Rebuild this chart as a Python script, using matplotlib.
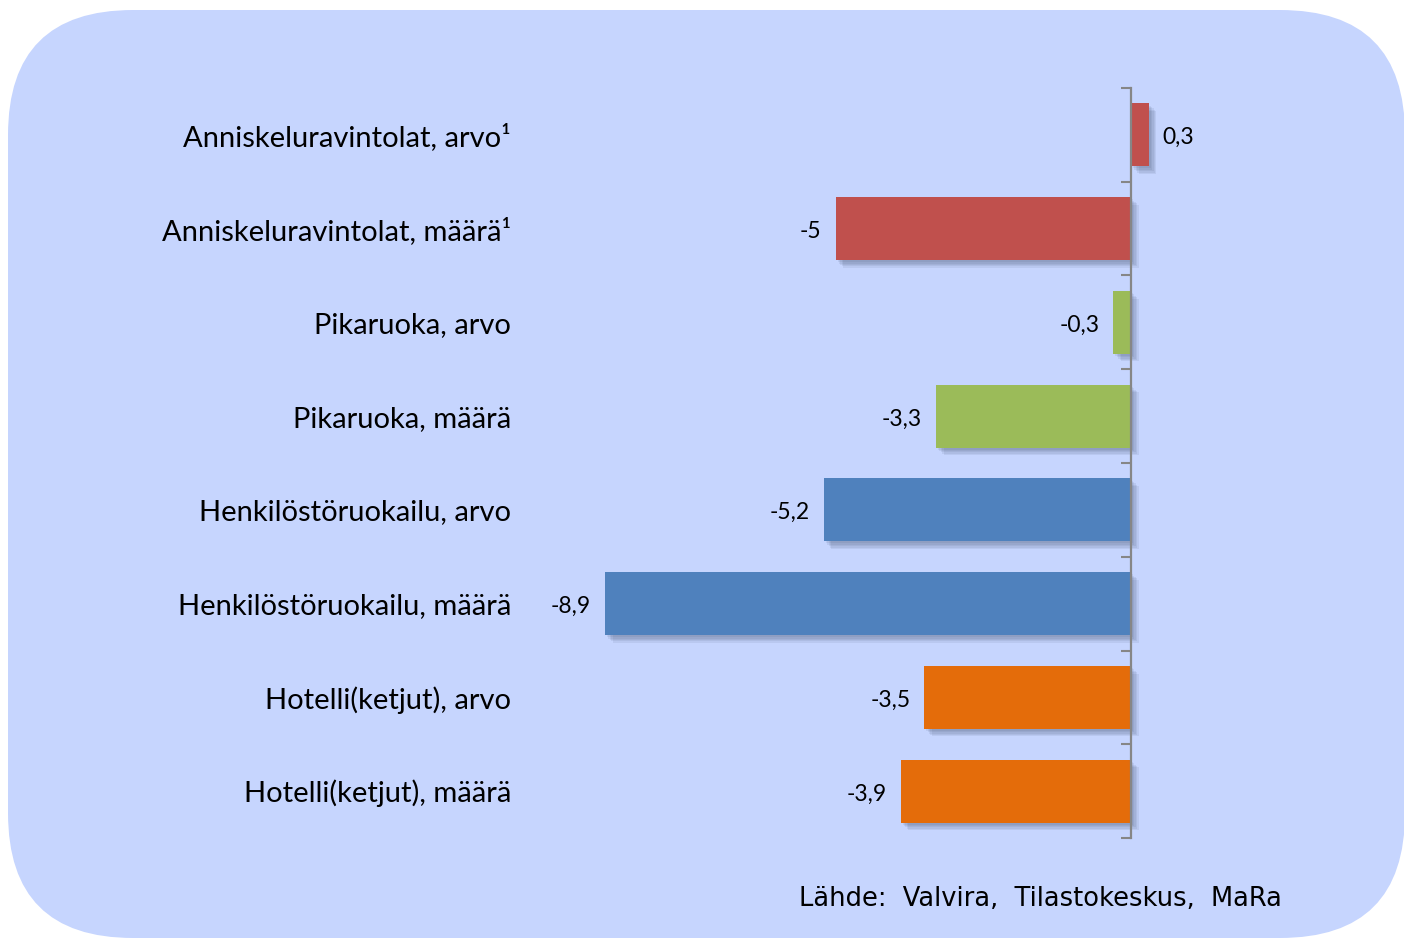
import matplotlib
matplotlib.use("Agg")
import matplotlib.pyplot as plt
import matplotlib.patheffects as pe
from matplotlib.patches import FancyBboxPatch
from matplotlib.transforms import IdentityTransform

# ---------------------------------------------------------------- data
categories = [
    "Anniskeluravintolat, arvo¹",
    "Anniskeluravintolat, määrä¹",
    "Pikaruoka, arvo",
    "Pikaruoka, määrä",
    "Henkilöstöruokailu, arvo",
    "Henkilöstöruokailu, määrä",
    "Hotelli(ketjut), arvo",
    "Hotelli(ketjut), määrä",
]
values = [0.3, -5, -0.3, -3.3, -5.2, -8.9, -3.5, -3.9]
colors = ["#C0504D", "#C0504D", "#9BBB59", "#9BBB59",
          "#4F81BD", "#4F81BD", "#E46C0A", "#E46C0A"]
source = "Lähde:  Valvira,  Tilastokeskus,  MaRa"

# ---------------------------------------------------------------- figure
W, H, DPI = 1404, 939, 100
fig = plt.figure(figsize=(W / DPI, H / DPI), dpi=DPI)
fig.patch.set_facecolor("white")

# rounded light blue panel (pixel coordinates, origin bottom-left)
R = 125
px0, py0, pw, ph = 8, 1, 1397, 928
panel = FancyBboxPatch((px0 + R, py0 + R), pw - 2 * R, ph - 2 * R,
                       boxstyle=f"round,pad={R},rounding_size={R}",
                       transform=IdentityTransform(), facecolor="#C6D5FE",
                       edgecolor="none", zorder=-10)
fig.patches.append(panel)

# axes placed so that x=0 sits at px 1131, y boundaries at px 88..838
xmin, xmax = -9.5, 1.5
scale = 59.1
left_px = 1131 + xmin * scale
right_px = 1131 + xmax * scale
ax = fig.add_axes([left_px / W, (H - 838) / H, (right_px - left_px) / W, 750 / H])
ax.patch.set_alpha(0)

ypos = list(range(len(categories)))
bars = ax.barh(ypos, values, height=0.67, color=colors, zorder=3)
# soft drop shadow: a few stacked faint offsets
shadow = [pe.SimplePatchShadow(offset=(d, -d), shadow_rgbFace="#3a4868", alpha=0.09)
          for d in (1.5, 2.5, 3.5, 4.5, 5.5)]
for b in bars:
    b.set_path_effects(shadow + [pe.Normal()])

ax.set_xlim(xmin, xmax)
ax.set_ylim(len(categories) - 0.5, -0.5)

# vertical axis line at zero with category boundary ticks
for s in ["top", "right", "bottom"]:
    ax.spines[s].set_visible(False)
ax.spines["left"].set_position(("data", 0))
ax.spines["left"].set_color("#868686")
ax.spines["left"].set_linewidth(1.6)
ax.spines["left"].set_zorder(4)
ax.set_yticks([i - 0.5 for i in range(len(categories) + 1)])
ax.tick_params(axis="y", length=7, width=1.5, color="#868686", direction="out", labelleft=False)
ax.set_xticks([])

# category labels on a secondary axis at the left edge
sec = ax.secondary_yaxis("left")
sec.set_yticks(ypos, categories)
sec.spines["left"].set_visible(False)
sec.tick_params(axis="y", length=0, pad=42, labelsize=21)
for t in sec.get_yticklabels():
    t.set_family(["Lato", "DejaVu Sans"])

# value labels
labels = [f"{v:g}".replace(".", ",") for v in values]
anns = ax.bar_label(bars, labels=labels, padding=10, fontsize=16.5,
                    family=["Lato", "DejaVu Sans"], color="black")
for a in anns:
    dx, dy = a.xyann
    a.xyann = (dx, dy - 2)

fig.text(1282 / W, 1 - 899 / H, source, ha="right", va="center",
         fontsize=18.5, family="DejaVu Sans", color="black")

fig.savefig("out.png", dpi=DPI, facecolor="white")
